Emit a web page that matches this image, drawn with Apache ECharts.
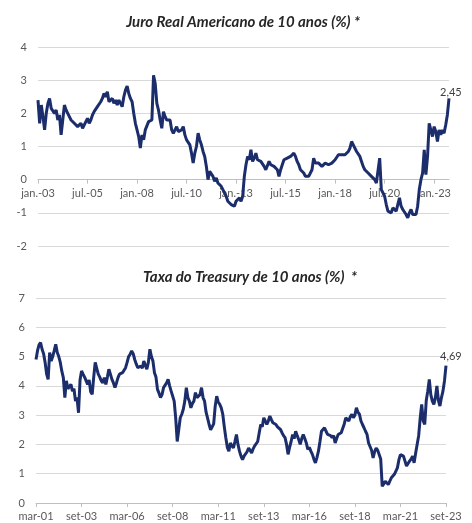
<!DOCTYPE html>
<html>
<head>
<meta charset="utf-8">
<script src="https://cdn.jsdelivr.net/npm/echarts@6/dist/echarts.min.js"></script>
<style>
html, body { margin: 0; padding: 0; background: #fff; }
#chart { width: 472px; height: 523px; }
</style>
</head>
<body>
<div id="chart"></div>
<script>
// Juro real 10 anos (TIPS), mensal, jan-2003 .. out-2023
const realRate = [
  2.4, 1.7, 2.25, 1.9, 1.5, 2.0, 2.3, 2.45, 2.15, 2.2, 2.0, 2.1,
  1.8, 1.95, 1.35, 1.8, 2.25, 2.1, 2.05, 1.9, 1.8, 1.75, 1.7, 1.75,
  1.6, 1.65, 1.7, 1.55, 1.6, 1.75, 1.85, 1.7, 1.8, 1.95, 2.05, 2.0,
  2.2, 2.15, 2.35, 2.45, 2.6, 2.5, 2.65, 2.35, 2.4, 2.45, 2.3, 2.4,
  2.25, 2.4, 2.3, 2.2, 2.5, 2.7, 2.82, 2.6, 2.45, 2.35, 2.0, 1.7,
  1.5, 1.3, 0.95, 1.35, 1.2, 1.5, 1.55, 1.75, 1.7, 1.8, 3.15, 2.9,
  2.3, 2.1, 1.8, 1.55, 2.05, 1.9, 1.8, 1.75, 1.8, 1.5, 1.4, 1.5,
  1.6, 1.45, 1.4, 1.5, 1.6, 1.35, 1.2, 1.15, 1.05, 0.8, 0.5, 0.8,
  1.0, 1.4, 1.2, 1.05, 0.85, 0.7, 0.4, 0.0, 0.25, 0.2, 0.1, -0.05,
  0.05, -0.1, -0.05, -0.2, -0.25, -0.4, -0.5, -0.65, -0.6, -0.75, -0.7, -0.8,
  -0.65, -0.6, -0.55, -0.65, -0.5, 0.1, 0.45, 0.7, 0.6, 0.9, 0.55, 0.65,
  0.8, 0.6, 0.65, 0.55, 0.5, 0.4, 0.3, 0.35, 0.55, 0.45, 0.5, 0.4,
  0.45, 0.3, 0.1, 0.3, 0.45, 0.6, 0.55, 0.65, 0.6, 0.7, 0.75, 0.8,
  0.7, 0.55, 0.45, 0.3, 0.25, 0.2, 0.1, 0.05, 0.1, 0.15, 0.3, 0.65,
  0.5, 0.45, 0.5, 0.55, 0.4, 0.45, 0.5, 0.55, 0.45, 0.5, 0.5, 0.55,
  0.6, 0.65, 0.75, 0.8, 0.75, 0.8, 0.75, 0.8, 0.85, 0.95, 1.15, 1.05,
  1.0, 0.85, 0.8, 0.7, 0.55, 0.4, 0.3, 0.25, 0.2, 0.2, 0.1, 0.05,
  0.0, -0.1, -0.05, 0.65, -0.3, -0.4, -0.5, -0.75, -0.95, -0.9, -1.0, -0.85,
  -0.8, -0.95, -0.9, -0.55, -0.8, -0.9, -0.95, -1.05, -1.15, -1.0, -0.9, -1.05,
  -1.0, -1.05, -0.8, -0.3, 0.0, 0.2, 0.9, 0.15, 0.7, 1.7, 1.5, 1.3,
  1.6, 1.45, 1.15, 1.5, 1.35, 1.5, 1.4, 1.65, 1.95, 2.45
]

// Treasury 10 anos, mensal, mar-2001 .. set-2023
const treasury = [
  4.9, 5.2, 5.4, 5.48, 5.25, 5.1, 4.8, 4.4, 4.22, 5.14,
  4.85, 5.0, 5.2, 5.42, 5.14, 5.0, 4.8, 4.5, 4.28, 3.6,
  4.17, 3.9, 3.94, 4.05, 3.82, 3.9, 3.48, 3.6, 3.08, 4.2,
  4.51, 4.4, 4.3, 4.34, 4.05, 4.2, 3.8, 3.71, 4.3, 4.8,
  4.6, 4.4, 4.3, 4.17, 4.1, 4.28, 4.05, 4.3, 4.57, 4.4,
  4.22, 4.1, 3.94, 4.1, 4.28, 4.4, 4.35, 4.45, 4.5, 4.62,
  4.8, 5.0, 5.08, 5.19, 5.1, 4.9, 4.75, 4.62, 4.6, 4.68,
  4.6, 4.85, 4.7, 4.57, 4.8, 5.25, 5.0, 4.85, 4.45, 4.3,
  3.88, 3.75, 3.6, 3.7, 3.94, 4.0, 4.1, 4.22, 4.0, 3.82,
  3.77, 3.48, 2.9, 2.1, 2.5, 2.91, 3.03, 3.2, 3.48, 3.94,
  3.6, 3.48, 3.25, 3.4, 3.48, 3.77, 3.6, 3.54, 3.7, 3.94,
  3.6, 3.48, 3.1, 2.9, 2.68, 2.5, 2.45, 2.7, 3.3, 3.65,
  3.45, 3.37, 3.25, 3.03, 2.6, 2.23, 1.9, 1.77, 2.05, 1.95,
  1.88, 2.1, 2.34, 2.0, 1.77, 1.6, 1.48, 1.6, 1.66, 1.75,
  1.88, 1.8, 1.71, 1.85, 1.95, 2.0, 2.1, 2.4, 2.68, 2.6,
  2.91, 2.8, 2.68, 2.8, 2.97, 2.85, 2.74, 2.7, 2.68, 2.6,
  2.55, 2.51, 2.4, 2.3, 2.23, 2.0, 1.66, 1.9, 2.1, 2.34,
  2.2, 2.45, 2.3, 2.17, 2.0, 2.2, 2.34, 2.2, 2.05, 1.83,
  1.9, 1.77, 1.66, 1.5, 1.37, 1.55, 1.77, 2.1, 2.45, 2.4,
  2.57, 2.45, 2.34, 2.4, 2.3, 2.23, 2.3, 2.05, 2.2, 2.34,
  2.3, 2.4, 2.45, 2.7, 2.91, 2.85, 2.8, 2.95, 3.03, 2.91,
  3.0, 3.25, 3.1, 3.03, 2.8, 2.68, 2.57, 2.45, 2.34, 2.05,
  2.1, 1.8, 1.54, 1.75, 1.88, 1.8, 1.77, 1.5, 0.57, 0.65,
  0.74, 0.68, 0.63, 0.75, 0.86, 0.9, 0.98, 1.03, 1.2, 1.48,
  1.65, 1.71, 1.6, 1.54, 1.26, 1.35, 1.43, 1.5, 1.6, 1.37,
  1.7, 2.0, 2.3, 2.9, 3.37, 2.8, 2.68, 3.5, 3.82, 4.22,
  3.7, 3.48, 3.37, 3.6, 4.0, 3.5, 3.31, 3.6, 3.82, 4.17,
  4.69
]

const mesesTop = ['jan.', 'fev.', 'mar.', 'abr.', 'mai.', 'jun.', 'jul.', 'ago.', 'set.', 'out.', 'nov.', 'dez.']
const mesesBottom = ['jan', 'fev', 'mar', 'abr', 'mai', 'jun', 'jul', 'ago', 'set', 'out', 'nov', 'dez']

function monthLabels(count, startYear, startMonth, names) {
  const out = []
  for (let i = 0; i < count; i++) {
    const m = (startMonth + i) % 12
    const y = startYear + Math.floor((startMonth + i) / 12)
    out.push(names[m] + '-' + String(y % 100).padStart(2, '0'))
  }
  return out
}

const topCategories = monthLabels(realRate.length, 2003, 0, mesesTop)
const bottomCategories = monthLabels(treasury.length, 2001, 2, mesesBottom)

const lineColor = '#1b2d6b'
const labelColor = '#595959'
const gridColor = '#d9d9d9'

// grid de cima: 4 .. -2, eixo x na linha do zero
const topGrid = { left: 38, right: 23, top: 47, height: 199 }
const zeroOffset = -topGrid.height * 2 / 6

const chart = echarts.init(document.getElementById('chart'))

const xAxisCommon = {
  type: 'category',
  boundaryGap: false,
  axisLine: { onZero: false, lineStyle: { color: '#bfbfbf' } },
  axisTick: { show: true, interval: 29, length: 4, lineStyle: { color: '#bfbfbf' } },
  axisLabel: { interval: 29, color: labelColor, fontFamily: 'Lato', fontSize: 11, margin: 8 },
  splitLine: { show: false }
}

const yAxisCommon = {
  type: 'value',
  interval: 1,
  axisLine: { show: false },
  axisTick: { show: false },
  axisLabel: { color: labelColor, fontFamily: 'Lato', fontSize: 11, margin: 11 },
  splitLine: { lineStyle: { color: gridColor, width: 1 } }
}

function endLabel(offset) {
  return {
    show: true,
    color: '#404040',
    fontFamily: 'Lato',
    fontSize: 11,
    offset: offset,
    formatter: p => p.value.toFixed(2).replace('.', ',')
  }
}

const titleStyle = { fontFamily: 'Lato', fontSize: 15, fontWeight: 'bold', fontStyle: 'italic', color: '#262626' }

const option = {
  animation: false,
  title: [
    {
      text: 'Juro Real Americano de 10 anos (%) *',
      left: 238,
      textAlign: 'center',
      top: 10,
      textStyle: titleStyle
    },
    {
      text: 'Taxa do Treasury de 10 anos (%)  *',
      left: 245,
      textAlign: 'center',
      top: 265,
      textStyle: titleStyle
    }
  ],
  grid: [
    topGrid,
    { left: 36, right: 26, top: 298, height: 205 }
  ],
  xAxis: [
    Object.assign({}, xAxisCommon, { gridIndex: 0, data: topCategories, offset: zeroOffset }),
    Object.assign({}, xAxisCommon, { gridIndex: 1, data: bottomCategories })
  ],
  yAxis: [
    Object.assign({}, yAxisCommon, { gridIndex: 0, min: -2, max: 4 }),
    Object.assign({}, yAxisCommon, { gridIndex: 1, min: 0, max: 7 })
  ],
  series: [
    {
      type: 'line',
      xAxisIndex: 0,
      yAxisIndex: 0,
      data: realRate,
      showSymbol: false,
      symbol: 'none',
      lineStyle: { color: lineColor, width: 3 },
      endLabel: endLabel([-17, -6]),
      z: 3
    },
    {
      type: 'line',
      xAxisIndex: 1,
      yAxisIndex: 1,
      data: treasury,
      showSymbol: false,
      symbol: 'none',
      lineStyle: { color: lineColor, width: 3 },
      endLabel: endLabel([-14, -9]),
      z: 3
    }
  ]
}

chart.setOption(option)
</script>
</body>
</html>
